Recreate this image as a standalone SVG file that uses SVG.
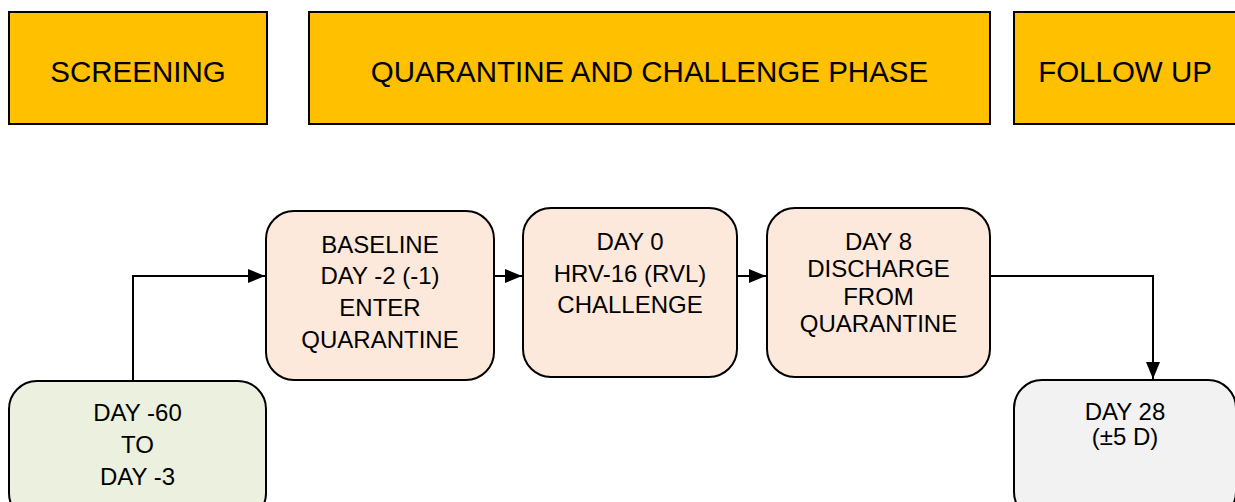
<svg xmlns="http://www.w3.org/2000/svg" width="1235" height="502" viewBox="0 0 1235 502">
<defs>
<style>
.hdr{fill:#FFC000;stroke:#000;stroke-width:2}
.node{stroke:#000;stroke-width:2}
.peach{fill:#FCE9DB}
.green{fill:#EBF1DE}
.grey{fill:#F2F2F2}
text{font-family:"Liberation Sans",Arial,sans-serif;fill:#000;text-anchor:middle}
.ht{font-size:29.5px}
.bt{font-size:24px}
.conn{fill:none;stroke:#000;stroke-width:2}
</style>
<marker id="arr" markerWidth="17" markerHeight="14" refX="17" refY="7" orient="auto" markerUnits="userSpaceOnUse">
<path d="M0,0 L17,7 L0,14 Z" fill="#000"/>
</marker>
</defs>
<rect width="1235" height="502" fill="#fff"/>
<g id="hdr-screening">
<rect class="hdr" x="9" y="12" width="258" height="112"/>
<text class="ht" x="138" y="82">SCREENING</text>
</g>
<g id="hdr-quarantine">
<rect class="hdr" x="309" y="12" width="681" height="112"/>
<text class="ht" x="649.5" y="82">QUARANTINE AND CHALLENGE PHASE</text>
</g>
<g id="hdr-followup">
<rect class="hdr" x="1014" y="12" width="230" height="112"/>
<text class="ht" x="1125" y="82">FOLLOW UP</text>
</g>
<g id="connectors">
<path class="conn" d="M133,381 V276 H265" marker-end="url(#arr)"/>
<path class="conn" d="M494,276 H522" marker-end="url(#arr)"/>
<path class="conn" d="M737,276 H766" marker-end="url(#arr)"/>
<path class="conn" d="M990,276 H1153 V379" marker-end="url(#arr)"/>
</g>
<g id="screening">
<rect class="node green" x="9" y="381" width="257" height="140" rx="28"/>
<text class="bt" x="137.5" y="421">DAY -60</text>
<text class="bt" x="137.5" y="453">TO</text>
<text class="bt" x="137.5" y="485">DAY -3</text>
</g>
<g id="baseline">
<rect class="node peach" x="266" y="211" width="228" height="169" rx="28"/>
<text class="bt" x="380" y="253">BASELINE</text>
<text class="bt" x="380" y="284">DAY -2 (-1)</text>
<text class="bt" x="380" y="316">ENTER</text>
<text class="bt" x="380" y="348">QUARANTINE</text>
</g>
<g id="day0">
<rect class="node peach" x="523" y="208" width="214" height="169" rx="28"/>
<text class="bt" x="630" y="250">DAY 0</text>
<text class="bt" x="630" y="282">HRV-16 (RVL)</text>
<text class="bt" x="630" y="313">CHALLENGE</text>
</g>
<g id="day8">
<rect class="node peach" x="767" y="208" width="223" height="169" rx="28"/>
<text class="bt" x="878.5" y="250">DAY 8</text>
<text class="bt" x="878.5" y="277">DISCHARGE</text>
<text class="bt" x="878.5" y="305">FROM</text>
<text class="bt" x="878.5" y="332">QUARANTINE</text>
</g>
<g id="day28">
<rect class="node grey" x="1014" y="380" width="222" height="140" rx="28"/>
<text class="bt" x="1125" y="420">DAY 28</text>
<text class="bt" x="1125" y="445">(±5 D)</text>
</g>
</svg>
